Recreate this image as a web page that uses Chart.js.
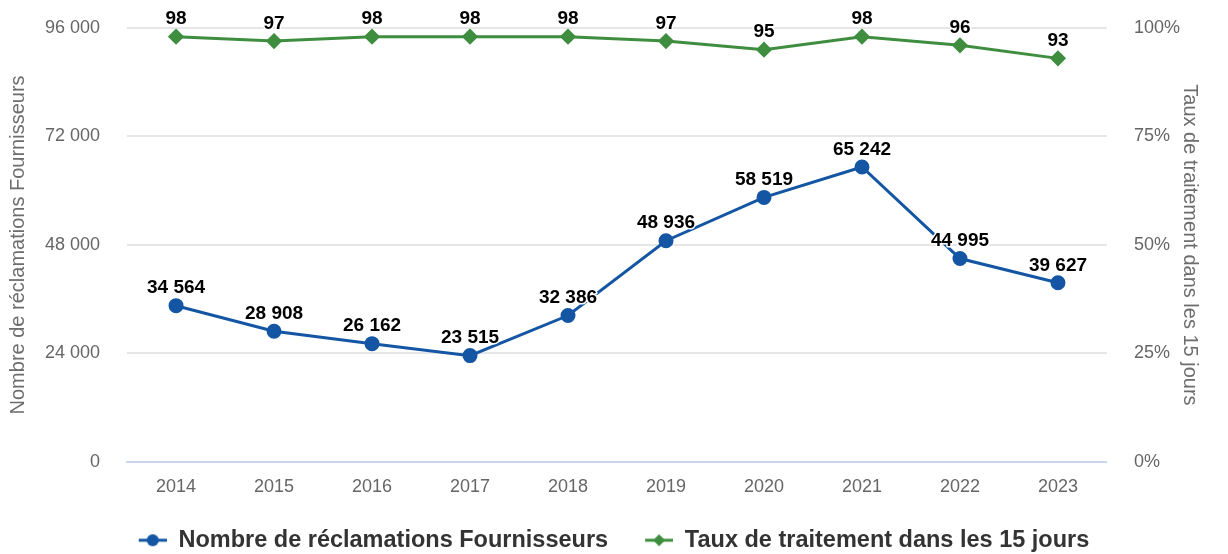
<!DOCTYPE html>
<html>
<head>
<meta charset="utf-8">
<script src="https://cdn.jsdelivr.net/npm/chart.js@4.4.1/dist/chart.umd.min.js"></script>
<style>
  html, body { margin: 0; padding: 0; background: #fff; }
  #wrap { width: 1228px; height: 554px; }
</style>
</head>
<body>
<div id="wrap"><canvas id="chart"></canvas></div>
<script>
const years = ["2014", "2015", "2016", "2017", "2018", "2019", "2020", "2021", "2022", "2023"];
const reclamations = [34564, 28908, 26162, 23515, 32386, 48936, 58519, 65242, 44995, 39627];
const tauxTraitement = [98, 97, 98, 98, 98, 97, 95, 98, 96, 93];

const blue = "#1456a3";
const green = "#3f8e3f";
const fontFamily = "'Liberation Sans', Arial, sans-serif";

function fmtThousands(v) {
    return String(v).replace(/\B(?=(\d{3})+(?!\d))/g, " ");
}

// legend symbol: short line with the marker in the middle (blank space on the left = gap between items)
function legendSymbol(color, shape) {
    const c = document.createElement("canvas");
    c.width = 48; c.height = 14;
    const g = c.getContext("2d");
    g.strokeStyle = color;
    g.lineWidth = 3;
    g.beginPath(); g.moveTo(20, 7); g.lineTo(48, 7); g.stroke();
    g.fillStyle = color;
    g.beginPath();
    if (shape === "circle") {
        g.arc(34, 7, 6, 0, Math.PI * 2);
    } else {
        g.moveTo(34, 1); g.lineTo(40, 7); g.lineTo(34, 13); g.lineTo(28, 7); g.closePath();
    }
    g.fill();
    return c;
}

// value labels above each point
const valueLabels = {
    id: "valueLabels",
    afterDatasetsDraw(chart) {
        const ctx = chart.ctx;
        ctx.save();
        ctx.font = "bold 19px " + fontFamily;
        ctx.textAlign = "center";
        ctx.textBaseline = "bottom";
        ctx.lineJoin = "round";
        chart.data.datasets.forEach((ds, i) => {
            const meta = chart.getDatasetMeta(i);
            meta.data.forEach((pt, j) => {
                const txt = i === 0 ? fmtThousands(ds.data[j]) : String(ds.data[j]);
                const y = pt.y - 8;
                ctx.strokeStyle = "#fff";
                ctx.lineWidth = 3;
                ctx.strokeText(txt, pt.x, y);
                ctx.fillStyle = "#000";
                ctx.fillText(txt, pt.x, y);
            });
        });
        ctx.restore();
    }
};

// keep the tick padding from pushing the plot area down
function noVerticalPad(scale) {
    scale.paddingTop = 0;
    scale.paddingBottom = 0;
}

const ctx = document.getElementById("chart").getContext("2d");
new Chart(ctx, {
    type: "line",
    data: {
        labels: years,
        datasets: [{
            label: "Nombre de réclamations Fournisseurs",
            data: reclamations,
            yAxisID: "y",
            borderColor: blue,
            backgroundColor: blue,
            borderWidth: 3,
            pointStyle: "circle",
            pointRadius: 6,
            pointHoverRadius: 6,
            tension: 0
        }, {
            label: "Taux de traitement dans les 15 jours",
            data: tauxTraitement,
            yAxisID: "y1",
            borderColor: green,
            backgroundColor: green,
            borderWidth: 3,
            pointStyle: "rectRot",
            pointRadius: 6,
            pointHoverRadius: 6,
            tension: 0
        }]
    },
    options: {
        responsive: true,
        maintainAspectRatio: false,
        animation: false,
        layout: { padding: { top: 28, left: 0, right: 20, bottom: -8 } },
        plugins: {
            tooltip: { enabled: false },
            legend: {
                position: "bottom",
                labels: {
                    usePointStyle: true,
                    pointStyleWidth: 48,
                    padding: 17,
                    color: "#333",
                    font: { family: fontFamily, size: 23.5, weight: "bold" },
                    generateLabels(chart) {
                        return chart.data.datasets.map((ds, i) => ({
                            text: ds.label,
                            pointStyle: legendSymbol(ds.borderColor, i === 0 ? "circle" : "diamond"),
                            fillStyle: ds.borderColor,
                            strokeStyle: ds.borderColor,
                            lineWidth: 0,
                            fontColor: "#333",
                            datasetIndex: i,
                            hidden: false
                        }));
                    }
                }
            }
        },
        scales: {
            x: {
                offset: true,
                grid: { display: false, drawTicks: false },
                border: { color: "#ccd6eb", width: 2 },
                ticks: { color: "#666", padding: 14, font: { family: fontFamily, size: 18 } }
            },
            y: {
                position: "left",
                min: 0,
                max: 96000,
                afterFit: noVerticalPad,
                ticks: {
                    stepSize: 24000,
                    color: "#666",
                    padding: 27,
                    font: { family: fontFamily, size: 18 },
                    callback: v => fmtThousands(v)
                },
                grid: { color: "#e6e6e6", lineWidth: 2, drawTicks: false },
                border: { display: false },
                title: {
                    display: true,
                    text: "Nombre de réclamations Fournisseurs",
                    color: "#6d6d6d",
                    font: { family: fontFamily, size: 20 },
                    padding: { top: 6, bottom: -12 }
                }
            },
            y1: {
                position: "right",
                min: 0,
                max: 100,
                afterFit: noVerticalPad,
                ticks: {
                    stepSize: 25,
                    color: "#666",
                    padding: 27,
                    font: { family: fontFamily, size: 18 },
                    callback: v => v + "%"
                },
                grid: { display: false, drawTicks: false },
                border: { display: false },
                title: {
                    display: true,
                    text: "Taux de traitement dans les 15 jours",
                    color: "#6d6d6d",
                    font: { family: fontFamily, size: 20 },
                    padding: { top: 6, bottom: -29 }
                }
            }
        }
    },
    plugins: [valueLabels]
});
</script>
</body>
</html>
